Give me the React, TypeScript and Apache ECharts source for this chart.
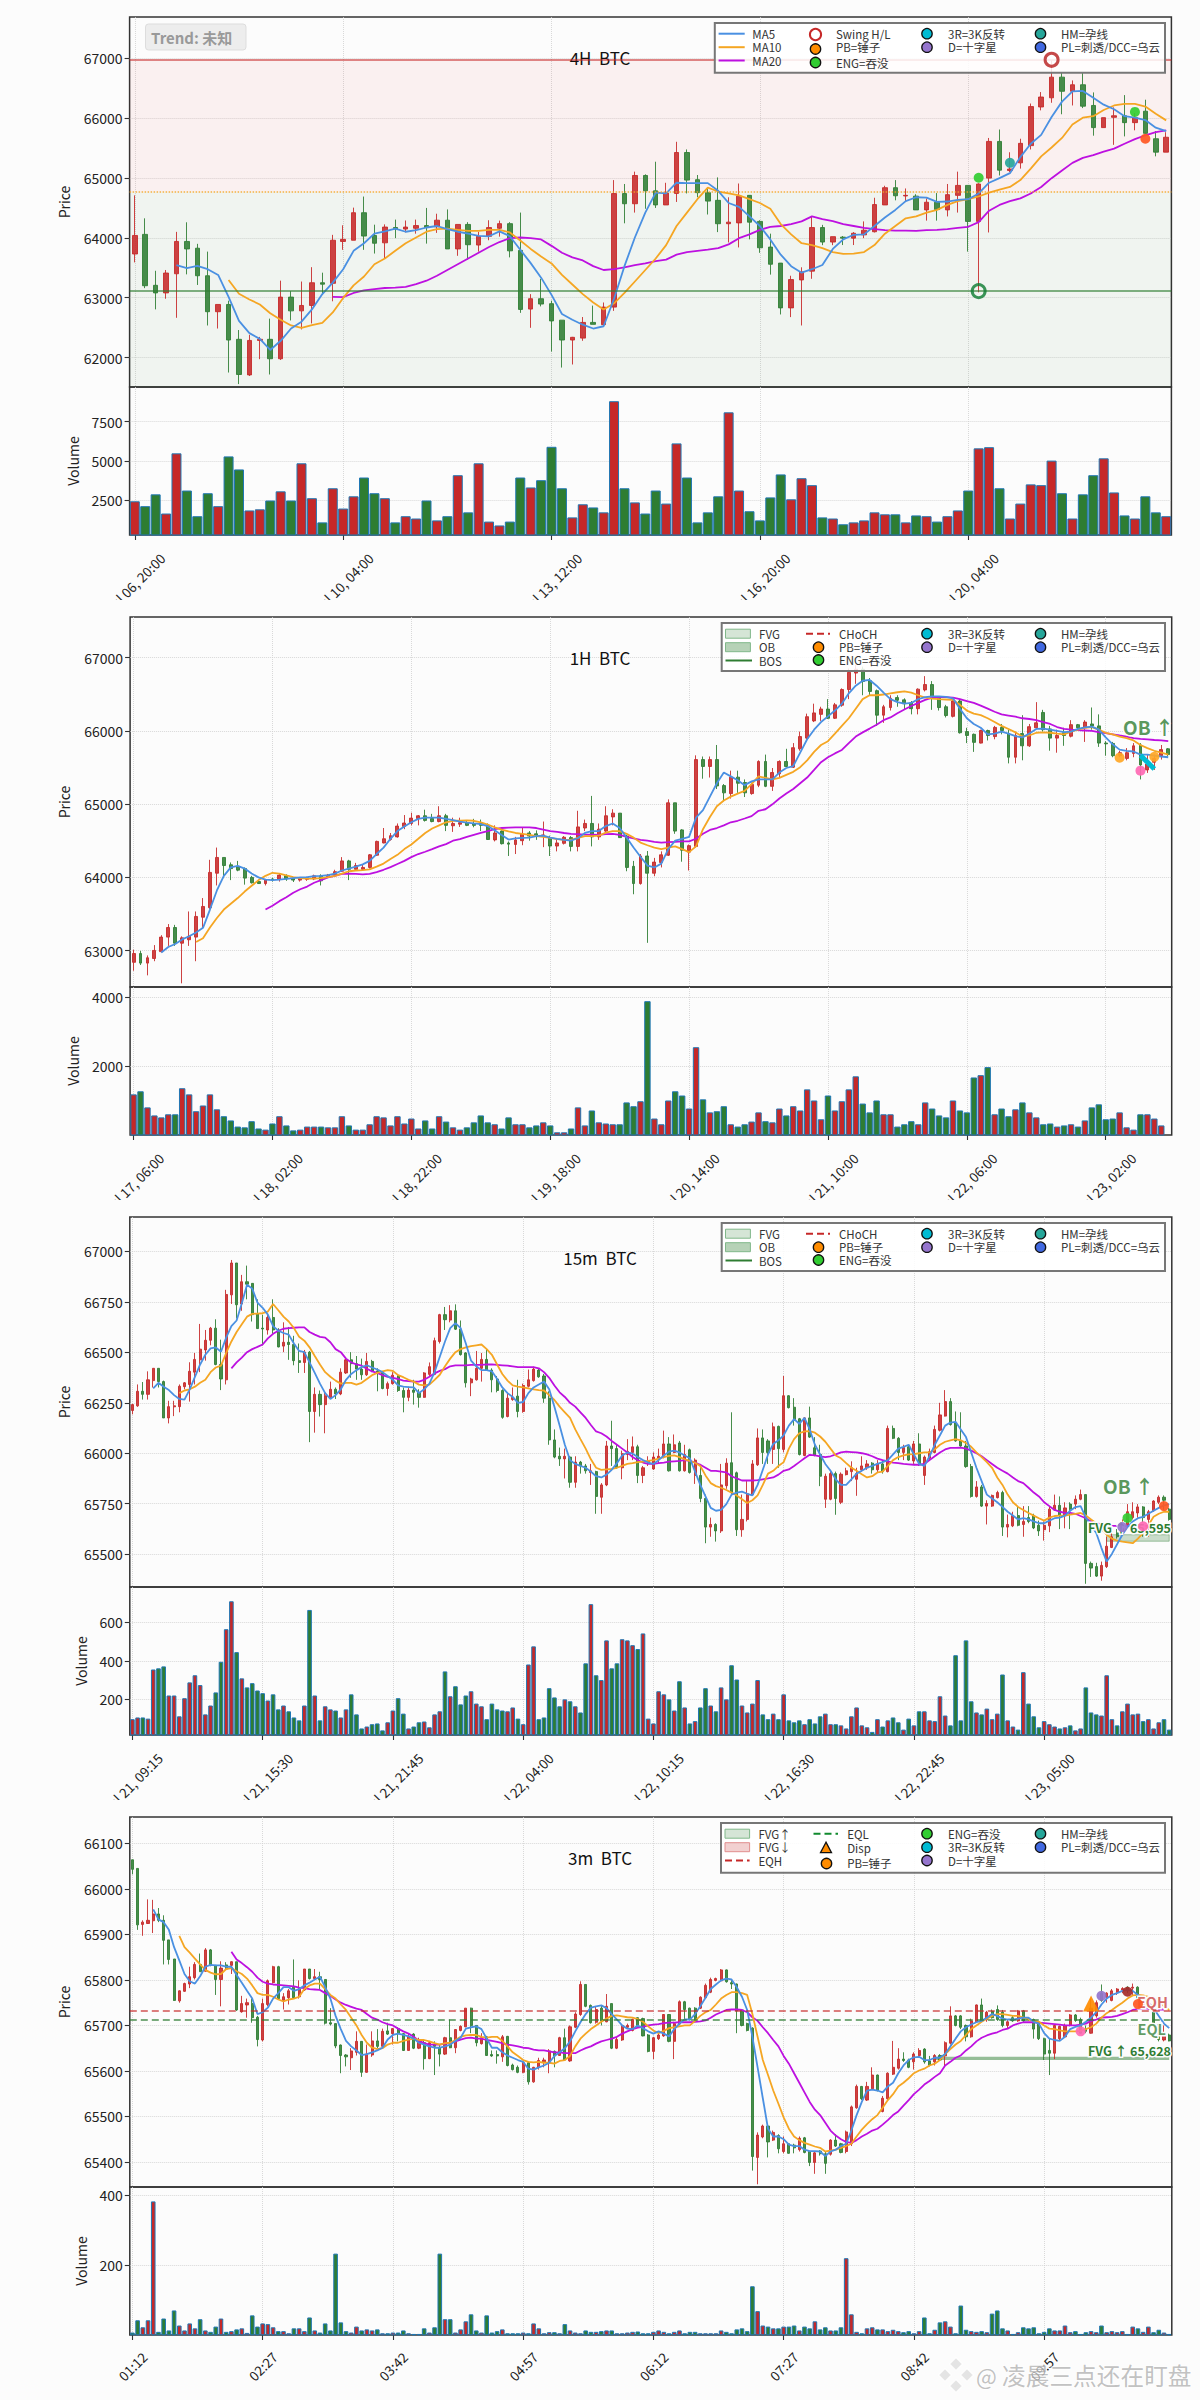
import React, { useEffect, useRef } from "react";
import * as echarts from "echarts";

const FONT = '"Noto Sans CJK SC","Noto Sans",sans-serif';
const UP = "#c62828";
const DOWN = "#2e7d32";
const pad = (n: number, a: number[]) => [...Array(n).fill(null), ...a];

// ---------- 4H ----------
const labels4h = ["Jul 06, 20:00", "Jul 10, 04:00", "Jul 13, 12:00", "Jul 16, 20:00", "Jul 20, 04:00"];
const candles4h = [
[63730,64040,63590,64710],[64058,63200,63160,64326],[63207,63080,62805,63450],[63080,63412,62983,63463],[63400,63940,62664,64100],[63940,63815,63390,64260],[63827,63367,63213,63900],[63367,62766,62536,63770],[62766,62887,62485,62887],[62887,62293,61750,62950],
[62305,61717,61557,62460],[61710,62286,61692,62380],[62286,62305,61973,62345],[62305,61980,61717,62650],[61980,63010,61960,63285],[63010,62780,62620,63110],[62780,62870,62470,63270],[62870,63250,62570,63510],[63250,63226,63047,63418],[63240,63960,62940,64050],
[63940,63975,63800,64210],[63960,64420,63960,64505],[64420,64030,63800,64690],[64040,63910,63738,64220],[63917,64180,63655,64225],[64173,64150,63995,64305],[64147,64180,64090,64290],[64160,64205,64070,64305],[64205,64173,63904,64500],[64185,64295,64083,64403],
[64295,63815,63815,64475],[63815,64224,63700,64224],[64224,63885,63635,64262],[63880,64025,63770,64100],[64025,64172,63960,64294],[64160,64237,64020,64288],[64237,63783,63674,64262],[63790,62804,62747,64422],[62810,62983,62497,63060],[62983,62894,62855,63316],
[62900,62612,62100,62950],[62625,62293,61833,62625],[62293,62338,61884,62345],[62325,62587,62280,62677],[62587,62555,62555,62868],[62550,62843,62550,62920],[62843,64740,62780,64965],[64740,64570,64243,64900],[64570,65042,64422,65106],[65042,64786,64486,65061],
[64786,64550,64500,65272],[64550,64748,64550,64920],[64742,65426,64600,65605],[65426,64965,64742,65477],[64972,64755,64678,65050],[64755,64614,64390,64838],[64627,64236,64096,65010],[64236,64262,63923,64678],[64250,64697,63840,64908],[64710,64262,63975,64710],
[64275,63834,63750,64294],[63846,63559,63386,64070],[63578,62830,62720,63578],[62830,63303,62676,63367],[63297,63431,62536,63508],[63444,64172,63316,64358],[64172,63930,63878,64217],[63930,64020,63878,64020],[64012,63995,63880,64030],[63995,64077,63880,64096],
[64050,64128,63995,64275],[64102,64556,64090,64670],[64550,64838,64550,64870],[64838,64703,64627,64965],[64700,64710,64614,64825],[64697,64467,64467,64729],[64467,64595,64288,64658],[64595,64473,64288,64748],[64467,64722,64358,64900],[64710,64876,64422,65106],
[64876,64275,63770,64876],[64275,64900,63090,64912],[64998,65611,64090,65669],[65611,65131,65042,65810],[65125,65150,65100,65430],[65253,65579,65157,65656],[65541,66193,65477,66244],[66187,66353,66130,66436],[66340,66685,66257,66960],[66685,66449,66065,66755],
[66449,66558,66212,66630],[66558,66200,66168,66755],[66212,65842,65707,66430],[65842,66008,65842,66008],[66014,66040,65554,66180],[66040,65925,65695,66385],[65925,66008,65797,66085],[66116,65746,65733,66308],[65656,65432,65362,65784],[65432,65681,65432,65765]];
const volume4h = [2450,2140,2890,1675,5485,3130,1505,2960,2140,5290,4465,1870,1940,2500,3080,2500,4855,2645,1115,3275,1990,2765,3955,2960,2645,1115,1505,1360,2500,1240,1505,4100,1750,4855,1165,920,1165,3955,3325,3785,5900,3275,1430,2260,2060,1750,8785,3275,2380,1675,3130,2305,6115,3955,1115,1750,2765,8080,3130,1820,1240,2695,4150,2575,3910,3470,1430,1360,995,1115,1240,1750,1625,1625,1115,1555,1505,1165,1505,1870,3130,5800,5875,3275,1360,2305,3520,3470,5025,2960,1360,2890,4100,5170,3010,1555,1360,2765,1750,1505];
const ma5_4h = pad(4,[63546,63495,63533,63476,63380,63015,62612,62408,62312,62127,62280,62485,62600,62804,63060,63252,63476,63783,63910,64070,64109,64153,64102,64128,64173,64198,64147,64102,64070,64032,64026,64109,64026,63802,63578,63335,63047,62728,62632,62549,62485,
62523,62983,63527,64006,64422,64755,64742,64921,64914,64914,64914,64786,64582,64518,64358,64198,63974,63719,63527,63418,63476,63546,63815,63974,64051,64058,64198,64339,64467,64614,64678,64671,64601,64607,64633,64646,64742,64921,64997,65081,65349,65573,65720,66020,66276,66449,66455,66340,66225,66148,66033,66008,65969,65841,65784]);
const ma10_4h = pad(9,[63297,63066,62971,62887,62740,62632,62536,62497,62542,62580,62753,62996,63207,63354,63559,63655,63783,63910,64006,64102,64147,64153,64134,64115,64115,64134,64134,64090,63955,63815,63687,63572,63380,63220,63060,62919,
62804,62907,63079,63271,63463,63655,63879,64198,64422,64646,64838,64774,64742,64710,64646,64582,64486,64230,64058,63910,63879,63827,63763,63731,63738,63763,63879,64070,64198,64326,64358,64422,64467,64550,64614,64646,64691,64755,64806,64850,64965,65157,65362,65509,65669,65893,66008,66033,66136,66212,66238,66238,66193,66072,65963]);
const ma20_4h = pad(19,[63015,63009,63079,63124,63143,63162,63169,63182,63226,63284,63367,63463,63559,63655,63751,63847,63930,63994,64006,63994,63974,63866,63751,63674,63623,63527,
63463,63476,63508,63546,63572,63610,63636,63719,63763,63783,63802,63827,63891,63994,64058,64134,64185,64198,64230,64275,64358,64313,64281,64230,64198,64166,64147,64128,64121,64121,64115,64128,64134,64147,64166,64185,64262,64454,64550,64614,64659,64742,64850,64997,65125,65253,65336,65381,65439,65490,65573,65650,65714,65765,65797]);

// ---------- 1H ----------
const labels1h = ["Jul 17, 06:00", "Jul 18, 02:00", "Jul 18, 22:00", "Jul 19, 18:00", "Jul 20, 14:00", "Jul 21, 10:00", "Jul 22, 06:00", "Jul 23, 02:00"];
const candles1h = [
[62841,62961,62726,63013],[62961,62830,62804,62997],[62830,62903,62663,62935],[62893,63003,62856,63076],[62987,63185,62976,63211],[63185,63316,63065,63363],[63316,63102,63065,63352],[63102,63175,62554,63196],[63149,63196,63065,63535],[63185,63467,62856,63535],
[63457,63603,63311,63718],[63587,64068,63561,64240],[64057,64272,63890,64407],[64272,64162,63990,64272],[64172,64120,63963,64204],[64146,64099,64084,64225],[64120,63990,63901,64136],[64000,63927,63916,64021],[63943,63916,63911,63963],[63916,63969,63890,63979],
[63979,63963,63943,63995],[63974,64031,63943,64057],[64021,63979,63953,64042],[63984,63963,63937,64005],[63963,63984,63943,64005],[63974,63995,63953,64010],[63979,64021,63963,64037],[64021,63953,63890,64042],[64010,64031,63995,64047],[64031,64078,64016,64104],
[64084,64225,64073,64277],[64225,64110,63963,64240],[64110,64162,64094,64198],[64110,64136,64099,64172],[64136,64308,64120,64319],[64303,64491,64292,64501],[64470,64527,64465,64674],[64517,64569,64501,64606],[64553,64700,64543,64736],[64695,64742,64658,64851],
[64736,64809,64710,64883],[64804,64841,64710,64851],[64841,64778,64762,64924],[64804,64762,64752,64867],[64762,64841,64752,64971],[64841,64710,64632,64867],[64705,64736,64621,64815],[64726,64747,64689,64815],[64747,64710,64700,64773],[64736,64710,64684,64799],
[64736,64710,64632,64789],[64710,64517,64512,64736],[64512,64606,64491,64710],[64632,64460,64449,64642],[64470,64454,64292,64491],[64449,64512,64319,64553],[64501,64590,64439,64674],[64606,64564,64501,64632],[64595,64569,64512,64642],[64569,64580,64413,64762],
[64543,64428,64292,64569],[64428,64470,64355,64527],[64465,64548,64449,64564],[64543,64423,64355,64564],[64423,64689,64355,64909],[64674,64736,64632,64789],[64736,64553,64423,65112],[64553,64658,64512,64736],[64632,64841,64606,64971],[64825,64877,64710,64930],
[64877,64543,64543,64877],[64564,64136,64084,64580],[64151,63916,63770,64225],[63916,64292,63901,64319],[64292,64057,63107,64360],[64057,64209,64016,64266],[64204,64308,64136,64355],[64303,65018,64292,65065],[65018,64632,64595,65018],[64648,64371,64214,64658],
[64345,64433,64094,64449],[64423,65608,64407,65666],[65608,65514,65347,65650],[65514,65608,65363,65650],[65608,65248,65206,65807],[65253,65154,65039,65274],[65144,65368,65076,65457],[65368,65285,65154,65457],[65295,65154,65097,65337],[65144,65269,65128,65295],
[65258,65582,65232,65598],[65582,65243,65232,65676],[65243,65431,65180,65493],[65415,65582,65363,65598],[65582,65514,65504,65755],[65504,65770,65493,65833],[65755,65922,65729,65990],[65901,66193,65885,66235],[66136,66245,66120,66371],[66225,66298,66136,66329],
[66298,66172,66162,66433],[66172,66355,66162,66381],[66350,66564,66329,66580],[66564,66799,66433,66851],[66789,66841,66642,66903],[66841,66674,66486,66877],[66684,66538,66486,66721],[66548,66214,66068,66564],[66214,66329,66110,66355],[66318,66444,66277,66486],
[66454,66418,66329,66486],[66423,66371,66298,66444],[66381,66303,66225,66407],[66303,66569,66225,66580],[66559,66632,66538,66747],[66632,66460,66287,66679],[66460,66318,66277,66475],[66329,66209,66183,66355],[66198,66407,66183,66423],[66407,65974,65963,66433],
[65990,65937,65833,66042],[65953,65843,65713,65963],[65833,66005,65828,66016],[66005,65937,65869,66016],[65922,66047,65885,66068],[66047,66005,65953,66094],[65963,65640,65556,66016],[65640,65937,65556,65990],[65963,65796,65598,66214],[65796,66057,65781,66094],
[66042,66110,66031,66392],[66251,66016,65990,66287],[66026,65901,65729,66068],[65901,65937,65702,66016],[65974,65937,65796,66042],[65927,66084,65911,66146],[66084,66042,66016,66094],[66042,66120,65849,66146],[66094,66068,66016,66319],[66068,65833,65781,66225],
[65833,65823,65661,65859],[65828,65661,65640,65849],[65661,65702,65640,65729],[65624,65702,65598,65765],[65692,65796,65640,65833],[65807,65535,65337,65833],[65467,65546,65426,65676],[65572,65624,65467,65676],[65661,65744,65608,65807],[65755,65676,65650,65765]];
const volume1h = [1193,1282,818,586,530,619,619,1370,1193,707,873,1193,762,563,442,265,243,420,210,177,354,563,298,155,177,265,265,265,243,243,563,298,177,177,331,563,530,298,563,354,497,210,442,210,563,409,243,177,243,387,586,387,331,210,530,331,331,243,298,387,298,100,100,210,818,298,729,387,354,331,331,961,851,995,3879,497,331,1017,1282,1160,785,2552,1050,674,707,851,331,265,331,409,674,420,387,785,586,851,729,1337,1017,475,1160,729,995,1337,1713,928,674,1017,619,619,265,331,420,331,961,785,586,530,1017,729,674,1680,1746,1978,619,785,563,762,961,674,530,331,354,265,298,331,265,442,818,906,475,497,674,243,177,619,619,497,298,36];
const ma5_1h = pad(4,[62976,63050,63091,63154,63196,63248,63311,63561,63822,64021,64136,64157,64120,64052,64000,63969,63963,63969,63979,63990,64000,64005,64016,64021,64031,64052,64094,64120,64146,64178,64225,64319,64407,64527,64632,64695,64752,64799,64815,64815,64815,64799,64783,64762,64747,64736,64726,64700,64642,64580,64517,64533,64538,64543,64564,64569,64543,64527,64512,64501,64538,64606,64632,
64632,64700,64736,64674,64543,64407,64282,64162,64136,64188,64386,64501,64527,64553,64815,64919,65102,65285,65431,65379,65326,65259,65311,65337,65337,65337,65431,65493,65520,65702,65885,66016,66120,66198,66277,66371,66512,66616,66684,66695,66616,66522,66433,66392,66371,66381,66433,66460,66470,66470,66465,66444,66303,66172,66094,66042,65953,65963,65990,65963,65927,65911,65963,66026,66031,66016,66000,65984,65990,66026,66047,66057,66016,65911,65817,65744,65728,65718,65676,65676,65661,65650,65640]);
const ma10_1h = pad(9,[63117,63170,63316,63446,63561,63640,63718,63807,63885,63963,64021,64063,64052,64026,64005,63990,63984,63984,63990,64005,64021,64052,64084,64094,64099,64110,64146,64188,64251,64308,64386,64449,64527,64606,64668,64710,64752,64773,64773,64778,64773,64752,64721,64684,64653,64627,64606,64595,64580,64564,64553,64538,64522,64512,64512,64538,64564,64564,
64569,64611,64632,64632,64595,64543,64475,64439,64407,64386,64407,64423,64386,64345,64423,64658,64825,64971,65050,65102,65144,65180,65274,65379,65358,65337,65358,65400,65441,65504,65598,65713,65807,65859,65963,66068,66172,66303,66433,66486,66486,66496,66512,66527,66538,66522,66486,66454,66439,66433,66428,66423,66355,66277,66235,66214,66172,66120,66068,66026,65979,65922,65937,65974,65979,65974,65963,65953,65990,66016,66042,66052,66016,65974,65953,65922,65901,65869,65807,65765,65728,65702,65676]);
const ma20_1h = pad(19,[63561,63614,63676,63728,63791,63838,63875,63927,63963,64000,64021,64047,64052,64047,64042,64047,64073,64104,64141,64183,64225,64277,64319,64350,64386,64423,64454,64501,64522,64553,64580,64606,64632,64658,64674,64679,64684,64684,64684,64674,64653,64632,64621,64606,64595,64590,64585,64585,
64580,64590,64595,64580,64553,64533,64512,64501,64486,64475,64480,64486,64491,64491,64527,64595,64648,64674,64710,64752,64773,64804,64836,64909,64930,64997,65076,65144,65206,65285,65363,65467,65572,65640,65692,65739,65833,65922,65979,66031,66084,66146,66183,66240,66292,66339,66381,66423,66454,66460,66460,66454,66433,66407,66381,66345,66303,66261,66225,66209,66193,66172,66162,66146,66120,66094,66052,66026,66016,66010,66005,66000,65984,65969,65953,65937,65922,65901,65890,65885,65875,65869,65859]);

// ---------- 15m ----------
const labels15m = ["Jul 21, 09:15", "Jul 21, 15:30", "Jul 21, 21:45", "Jul 22, 04:00", "Jul 22, 10:15", "Jul 22, 16:30", "Jul 22, 22:45", "Jul 23, 05:00"];
const candles15m = [
[66212,66241,66193,66245],[66235,66307,66230,66341],[66307,66292,66266,66353],[66292,66364,66266,66406],[66360,66421,66326,66421],[66421,66355,66326,66421],[66355,66175,66175,66360],[66175,66231,66148,66260],[66230,66235,66184,66260],[66231,66332,66203,66341],
[66330,66349,66317,66353],[66341,66406,66256,66451],[66402,66465,66341,66497],[66463,66516,66402,66641],[66512,66560,66459,66611],[66560,66620,66535,66626],[66620,66440,66436,66664],[66440,66368,66313,66563],[66364,66787,66341,66810],[66785,66943,66740,66958],
[66943,66736,66668,66943],[66740,66850,66706,66884],[66850,66838,66763,66930],[66842,66687,66653,66842],[66691,66618,66616,66763],[66620,66616,66535,66687],[66611,66673,66588,66692],[66673,66611,66592,66763],[66611,66527,66525,66620],[66531,66550,66501,66649],
[66550,66539,66463,66626],[66539,66459,66436,66582],[66459,66450,66398,66544],[66450,66501,66398,66512],[66501,66207,66055,66507],[66207,66292,66102,66326],[66292,66241,66182,66311],[66241,66285,66099,66307],[66275,66317,66269,66355],[66317,66294,66269,66326],
[66294,66402,66288,66421],[66398,66463,66393,66469],[66463,66444,66374,66501],[66444,66417,66364,66482],[66417,66389,66364,66469],[66389,66455,66383,66497],[66455,66408,66402,66463],[66408,66402,66307,66421],[66402,66321,66317,66408],[66321,66345,66285,66355],
[66345,66387,66340,66402],[66383,66311,66304,66387],[66311,66277,66203,66326],[66277,66313,66258,66330],[66313,66302,66241,66364],[66302,66277,66226,66317],[66277,66398,66275,66402],[66391,66429,66383,66450],[66391,66558,66387,66573],[66554,66687,66544,66691],
[66687,66662,66611,66725],[66660,66706,66649,66734],[66706,66615,66611,66738],[66615,66489,66484,66658],[66497,66349,66326,66501],[66349,66368,66283,66374],[66364,66421,66360,66507],[66421,66465,66355,66497],[66465,66412,66408,66516],[66412,66364,66302,66421],
[66368,66311,66302,66383],[66311,66178,66171,66317],[66182,66273,66178,66298],[66266,66277,66260,66326],[66283,66207,66178,66364],[66207,66336,66201,66345],[66332,66364,66326,66415],[66360,66417,66355,66429],[66412,66379,66374,66421],[66383,66273,66250,66393],
[66273,66066,66042,66307],[66066,65981,65975,66118],[65985,65972,65937,66028],[65972,65985,65875,66023],[65981,65856,65829,65985],[65856,65956,65829,65985],[65956,65937,65899,65962],[65937,65913,65899,65947],[65905,65913,65843,65947],[65909,65786,65700,65913],
[65782,65843,65700,65852],[65843,66036,65837,66061],[66036,66023,65937,66161],[66023,65928,65924,66042],[65928,65998,65871,66013],[65994,66009,65966,66070],[66004,66032,65966,66083],[66032,65890,65852,66042],[65890,65928,65852,65937],[65951,65960,65937,65985],
[65922,65981,65918,66004],[65975,65985,65947,66023],[65981,66046,65975,66112],[66046,65913,65909,66080],[66004,66042,66000,66093],[66051,65913,65909,66061],[65913,65994,65909,66042],[66017,65905,65899,66023],[65890,65966,65848,65975],[65890,65776,65757,65947],
[65776,65634,65554,65795],[65634,65647,65586,65681],[65647,65615,65562,65653],[65615,65843,65605,65947],[65839,65951,65824,65975],[65953,65805,65795,66203],[65903,65621,65590,65909],[65621,65672,65586,65795],[65672,65799,65662,65862],[65795,65947,65791,65966],
[65943,66076,65937,66123],[66076,66004,65947,66118],[66061,66004,65947,66070],[66019,66131,65947,66152],[66133,66023,65928,66137],[66019,66285,66004,66383],[66285,66226,66222,66288],[66228,66165,66137,66273],[66171,65994,65989,66175],[65989,66175,65985,66178],
[66175,66080,66076,66231],[66027,65989,65985,66080],[65994,65886,65837,66042],[65772,65886,65729,65899],[65772,65899,65767,65918],[65899,65776,65695,65909],[65757,65896,65748,65905],[65894,65913,65890,65928],[65909,65928,65862,65960],[65871,65899,65789,65928],
[65918,65937,65909,65985],[65928,65947,65918,65966],[65951,65918,65899,65956],[65918,65947,65905,65966],[65947,65909,65899,65966],[65909,66123,65905,66137],[66123,66074,66070,66137],[66074,66004,65966,66080],[66004,66028,65966,66042],[66032,65966,65962,66036],
[65962,66046,65947,66061],[66046,65943,65937,66099],[65890,65981,65843,65989],[65975,66008,65966,66023],[66004,66118,66000,66137],[66114,66190,66108,66250],[66184,66256,66182,66313],[66256,66142,66137,66273],[66150,66061,66057,66207],[66061,66036,66032,66203],
[66036,65934,65928,66061],[65934,65786,65780,65947],[65786,65833,65780,65862],[65833,65738,65734,65843],[65738,65751,65647,65767],[65738,65791,65734,65795],[65780,65805,65776,65814],[65805,65634,65590,65814],[65634,65647,65583,65696],[65640,65691,65634,65710],
[65691,65643,65638,65738],[65647,65662,65586,65738],[65681,65662,65653,65738],[65691,65630,65624,65700],[65643,65615,65590,65666],[65621,65643,65567,65662],[65640,65723,65609,65738],[65719,65742,65715,65795],[65742,65691,65624,65786],[65691,65729,65628,65757],
[65748,65723,65624,65757],[65748,65772,65723,65791],[65772,65795,65767,65820],[65795,65454,65353,65795],[65454,65431,65387,65463],[65438,65391,65387,65457],[65391,65444,65368,65463],[65438,65539,65431,65586],[65533,65586,65530,65605],[65605,65586,65577,65624],
[65615,65643,65605,65672],[65643,65710,65634,65748],[65681,65710,65672,65757],[65704,65734,65681,65748],[65734,65681,65586,65738],[65672,65710,65586,65719],[65715,65763,65710,65767],[65757,65782,65748,65791],[65782,65767,65719,65791],[65723,65672,65666,65729]];
const volume15m = [97,106,106,100,355,361,371,220,220,112,206,288,325,274,122,168,236,395,564,709,445,309,262,284,246,232,194,226,148,168,138,106,91,168,664,220,91,164,148,142,106,148,226,122,49,59,71,75,39,81,142,206,126,49,59,81,85,55,122,138,345,216,268,174,220,242,178,164,97,178,148,142,138,158,100,71,381,475,97,106,258,210,164,200,190,164,132,387,694,325,300,506,361,387,512,506,481,461,542,100,75,242,226,200,142,294,158,75,87,158,258,168,138,262,200,377,303,168,132,178,300,122,97,126,97,226,91,81,91,71,97,75,112,126,71,71,65,49,112,158,65,55,31,97,59,91,106,81,43,100,65,138,138,91,87,216,116,65,429,91,506,190,132,122,152,97,126,329,91,59,43,341,178,112,55,87,71,59,49,55,65,39,49,262,132,122,116,325,97,65,138,178,122,126,87,97,49,81,97,43];
const ma5_15m = pad(4,[66322,66349,66330,66313,66288,66269,66266,66317,66379,66440,66488,66520,66525,66503,66573,66630,66658,66744,66835,66816,66747,66721,66687,66630,66607,66596,66588,66544,66507,66501,66450,66398,66345,66298,66269,66288,66317,66364,66393,66412,66427,66436,66425,66415,66402,66383,66364,66336,66330,66328,66326,66298,66317,66345,66402,66478,66554,66620,66645,66620,66544,66459,66431,66412,66412,66406,66368,66326,66298,66279,66250,66254,66298,66326,66341,66355,66317,66231,66137,66042,65966,65947,65937,65928,65909,65886,
65880,65894,65918,65951,65989,66004,65998,65981,65966,65954,65947,65966,65989,66008,66013,66004,65989,65975,65909,65843,65786,65729,65715,65719,65748,65795,65805,65810,65799,65791,65843,65918,65994,66046,66064,66089,66137,66169,66146,66175,66118,66042,65994,65947,65913,65871,65843,65843,65871,65899,65913,65928,65937,65947,65956,65966,65994,66023,66032,66042,65994,65947,65937,65985,66042,66089,66137,66152,66156,66118,66080,66004,65928,65862,65795,65776,65757,65734,65710,65691,65672,65678,65672,65662,65653,65653,65666,65678,65681,65691,65715,65733,65738,65681,65643,65605,65530,65463,65501,65549,65596,65634,65662,65678,65685,65700,65715,65729,65742,65748]);
const ma10_15m = pad(9,[66298,66311,66317,66330,66349,66364,66402,66425,66434,66497,66554,66601,66639,66677,66691,66692,66694,66702,66740,66709,66677,66653,66620,66577,66558,66525,66482,66440,66402,66379,66360,66345,66349,66349,66340,66349,66368,66387,66398,66406,66412,66408,66387,66377,66364,66355,66340,66336,66340,66364,66389,66431,66469,66501,66516,66525,66531,66535,66539,66516,66488,66440,66393,66360,66336,66330,66326,66321,66317,66313,66311,66288,66264,66231,66203,66175,66118,66070,66023,65970,65928,
65918,65920,65922,65928,65937,65947,65951,65956,65958,65962,65966,65973,65981,65987,65989,65981,65970,65962,65953,65937,65890,65852,65837,65829,65818,65805,65791,65772,65753,65767,65791,65843,65899,65913,65937,65956,66023,66070,66099,66108,66110,66102,66083,66057,66023,65989,65975,65951,65928,65913,65896,65880,65886,65905,65909,65937,65966,65981,65989,65994,65996,66000,66004,66004,66019,66042,66057,66064,66070,66064,66051,66032,66004,65981,65956,65928,65880,65843,65795,65757,65734,65719,65704,65691,65678,65666,65681,65689,65691,65691,65696,65700,65704,65691,65672,65653,65624,65596,65577,65567,65562,65558,65554,65577,65605,65643,65685,65700,65710,65710]);
const ma20_15m = pad(19,[66421,66450,66474,66501,66516,66527,66539,66569,66592,66607,66617,66620,66622,66624,66624,66601,66588,66577,66573,66550,66516,66501,66469,66450,66440,66434,66419,66406,66398,66387,66379,66374,66368,66360,66357,66355,66355,66364,66379,66396,66408,66417,66431,66436,66436,66436,66438,66438,66438,66440,66440,66438,66436,66434,66431,66427,66427,66427,66427,66421,66402,66374,66336,66302,66279,66250,66231,66203,66175,66140,66108,
66099,66083,66061,66042,66023,66004,65981,65966,65954,65947,65947,65951,65954,65958,65960,65962,65966,65962,65954,65943,65928,65913,65913,65909,65905,65886,65875,65865,65865,65865,65867,65871,65875,65880,65894,65913,65920,65937,65956,65975,65992,65989,65985,65981,65985,65994,66004,66008,66006,66004,66000,65994,65985,65973,65966,65960,65954,65951,65947,65945,65943,65943,65947,65966,65985,66004,66019,66027,66027,66028,66023,66013,66000,65985,65966,65947,65928,65913,65899,65880,65862,65852,65829,65805,65786,65757,65738,65719,65710,65704,65704,65700,65689,65678,65662,65653,65647,65643,65640,65640,65640,65640,65640,65640,65640,65640,65640,65640,65640,65640]);

// ---------- 3m ----------
const labels3m = ["01:12", "02:27", "03:42", "04:57", "06:12", "07:27", "08:42", "09:57"];
const candles3m = [
[66064,66043,66032,66064],[66045,65921,65910,66045],[65922,65927,65897,65931],[65924,65931,65923,65977],[65930,65945,65903,65976],[65945,65931,65927,65958],[65931,65887,65834,65942],[65888,65845,65834,65888],[65846,65755,65754,65846],[65754,65776,65750,65777],
[65775,65792,65774,65794],[65791,65807,65782,65829],[65805,65834,65801,65839],[65834,65818,65818,65858],[65819,65866,65818,65870],[65866,65832,65830,65868],[65832,65801,65767,65833],[65801,65826,65742,65841],[65833,65824,65822,65839],[65832,65840,65813,65841],
[65840,65734,65732,65840],[65730,65748,65728,65765],[65745,65750,65717,65759],[65748,65717,65706,65759],[65718,65669,65654,65721],[65668,65748,65665,65759],[65746,65798,65742,65801],[65794,65829,65792,65831],[65829,65759,65757,65831],[65755,65763,65735,65771],
[65761,65776,65746,65780],[65784,65761,65759,65845],[65763,65780,65759,65799],[65778,65824,65776,65824],[65824,65803,65801,65824],[65803,65807,65801,65824],[65807,65801,65780,65818],[65801,65705,65702,65801],[65706,65703,65700,65738],[65704,65655,65650,65704],
[65657,65634,65595,65658],[65635,65631,65610,65637],[65629,65644,65602,65650],[65641,65665,65634,65687],[65665,65597,65587,65665],[65597,65637,65596,65658],[65635,65666,65631,65687],[65666,65654,65650,65692],[65654,65687,65650,65693],[65688,65681,65679,65706],
[65682,65693,65658,65694],[65693,65682,65665,65696],[65682,65645,65644,65683],[65645,65676,65645,65683],[65681,65650,65648,65683],[65650,65663,65648,65673],[65662,65627,65603,65666],[65627,65662,65626,65666],[65658,65654,65591,65665],[65651,65637,65610,65658],
[65637,65673,65635,65675],[65673,65651,65650,65713],[65651,65691,65639,65692],[65689,65698,65687,65700],[65697,65738,65696,65738],[65738,65700,65683,65739],[65700,65662,65654,65700],[65660,65673,65658,65683],[65675,65634,65633,65677],[65636,65633,65631,65645],
[65636,65633,65616,65645],[65631,65675,65620,65679],[65676,65612,65610,65677],[65613,65603,65601,65616],[65608,65597,65595,65612],[65597,65618,65595,65620],[65618,65576,65570,65620],[65576,65608,65574,65609],[65608,65623,65603,65629],[65620,65624,65608,65629],
[65620,65644,65595,65648],[65643,65633,65608,65645],[65634,65673,65633,65675],[65673,65624,65623,65693],[65622,65697,65620,65700],[65696,65725,65694,65729],[65724,65790,65721,65797],[65790,65742,65740,65790],[65744,65706,65704,65746],[65707,65735,65704,65742],
[65738,65710,65700,65744],[65708,65742,65707,65769],[65748,65650,65648,65748],[65650,65669,65648,65675],[65668,65700,65666,65700],[65696,65700,65692,65704],[65689,65713,65687,65715],[65717,65700,65696,65718],[65715,65677,65676,65717],[65679,65643,65641,65681],
[65643,65673,65626,65675],[65671,65679,65668,65683],[65677,65724,65675,65725],[65724,65665,65663,65725],[65665,65704,65626,65708],[65703,65752,65700,65755],[65752,65735,65713,65754],[65738,65713,65711,65739],[65738,65713,65711,65740],[65738,65762,65736,65764],
[65761,65788,65759,65792],[65773,65801,65771,65805],[65799,65803,65797,65805],[65798,65822,65797,65824],[65822,65796,65794,65823],[65794,65791,65780,65801],[65791,65732,65683,65792],[65734,65700,65698,65735],[65704,65689,65687,65706],[65694,65412,65381,65696],
[65410,65459,65351,65465],[65455,65479,65452,65482],[65479,65444,65410,65480],[65448,65465,65446,65469],[65458,65429,65419,65461],[65423,65440,65419,65456],[65440,65419,65418,65441],[65437,65431,65419,65440],[65427,65452,65423,65456],[65453,65421,65419,65455],
[65423,65399,65391,65424],[65399,65420,65374,65423],[65424,65418,65414,65426],[65418,65397,65374,65423],[65417,65448,65414,65450],[65448,65435,65433,65461],[65440,65421,65419,65442],[65423,65466,65419,65469],[65440,65521,65435,65524],[65519,65566,65517,65570],
[65566,65539,65536,65567],[65536,65566,65534,65576],[65561,65591,65560,65608],[65591,65557,65555,65592],[65511,65540,65509,65545],[65539,65595,65536,65597],[65593,65608,65591,65666],[65606,65626,65603,65650],[65626,65623,65620,65641],[65624,65608,65606,65627],
[65620,65637,65603,65641],[65634,65645,65631,65650],[65648,65620,65616,65650],[65622,65612,65610,65633],[65620,65634,65612,65637],[65634,65624,65623,65637],[65633,65662,65609,65665],[65661,65721,65658,65742],[65721,65700,65698,65723],[65721,65696,65692,65723],
[65700,65675,65665,65702],[65675,65710,65673,65715],[65708,65745,65707,65746],[65745,65710,65708,65759],[65713,65729,65708,65732],[65731,65717,65715,65735],[65735,65713,65710,65744],[65729,65700,65696,65734],[65700,65708,65692,65713],[65717,65710,65708,65721],
[65710,65732,65708,65734],[65732,65710,65708,65734],[65715,65712,65710,65717],[65713,65692,65671,65715],[65706,65671,65668,65708],[65671,65637,65624,65673],[65645,65639,65591,65671],[65639,65700,65626,65702],[65671,65698,65668,65700],[65675,65700,65673,65704],
[65700,65723,65698,65725],[65723,65711,65708,65725],[65713,65683,65682,65717],[65692,65687,65683,65700],[65683,65738,65682,65759],[65721,65750,65717,65755],[65771,65755,65752,65790],[65763,65771,65750,65773],[65755,65776,65753,65780],[65773,65780,65767,65782],
[65778,65781,65771,65784],[65784,65776,65771,65786],[65782,65784,65766,65792],[65784,65761,65750,65786],[65746,65763,65742,65766],[65739,65759,65735,65763],[65739,65700,65698,65742],[65702,65669,65665,65704],[65668,65679,65665,65700],[65679,65666,65665,65682]];
const volume3m = [8,43,23,43,382,10,48,14,71,28,14,34,20,46,14,10,25,48,10,12,17,20,7,57,25,34,32,23,12,12,6,20,20,12,51,14,8,34,14,233,37,12,8,25,14,17,14,17,6,6,8,8,14,6,4,4,20,8,23,233,46,46,8,17,40,60,14,8,57,8,12,17,6,6,6,8,6,34,20,6,9,9,6,32,14,8,6,14,10,10,12,14,14,6,6,8,10,11,6,6,10,14,10,6,10,14,6,10,10,6,6,6,6,14,10,6,17,20,12,140,69,28,25,20,20,25,25,28,14,25,20,40,17,23,14,14,23,220,60,10,6,20,23,17,17,12,16,12,9,12,6,12,51,6,16,37,40,25,6,85,16,12,10,12,9,62,71,20,14,4,9,23,20,23,6,10,20,14,14,28,9,12,4,9,12,9,28,9,12,9,12,4,25,20,10,25,9,16,8,4];
const ma5_3m = pad(4,[65955,65933,65927,65910,65872,65843,65813,65797,65792,65808,65829,65833,65832,65832,65829,65829,65811,65794,65776,65759,65725,65729,65739,65759,65771,65784,65784,65776,65780,65788,65794,65801,65807,65784,65759,65721,65692,65666,65654,65645,65635,65637,65641,65645,65651,65669,65679,65682,65679,65676,65671,65662,65658,65654,65651,65651,65654,65658,65666,65673,65693,65696,65698,65692,65671,65651,65651,65641,65634,65629,65624,65620,65605,65603,65608,65612,65618,65633,65641,65650,65665,65687,65707,65725,65739,65742,
65744,65738,65725,65713,65700,65693,65692,65700,65694,65687,65682,65687,65682,65676,65692,65704,65713,65713,65725,65742,65761,65780,65790,65799,65803,65801,65784,65763,65734,65675,65608,65540,65473,65456,65456,65450,65438,65435,65435,65427,65424,65424,65423,65413,65423,65427,65435,65440,65469,65503,65532,65557,65559,65557,65553,65566,65574,65595,65612,65624,65630,65631,65624,65624,65629,65629,65637,65654,65671,65687,65696,65702,65707,65710,65717,65725,65721,65715,65713,65713,65715,65717,65717,65708,65704,65683,65671,65668,65666,65675,65692,65697,65700,65708,65717,65729,65746,65759,65767,65771,65776,65778,65776,65767,65759,65750,65738,65721,65704,65694]);
const ma10_3m = pad(9,[65897,65872,65860,65847,65834,65822,65816,65812,65813,65824,65826,65819,65813,65803,65788,65771,65767,65767,65763,65757,65753,65757,65759,65763,65780,65788,65792,65792,65780,65767,65759,65746,65734,65717,65700,65679,65662,65651,65648,65650,65658,65662,65662,65666,65669,65671,65668,65668,65665,65661,65658,65661,65662,65668,65675,65678,65679,65679,65675,65673,65675,65675,65666,65654,65641,65633,65624,65620,65619,65620,65618,65618,65616,65622,65624,65633,65654,65671,65682,65692,65700,
65708,65715,65721,65722,65720,65718,65717,65714,65708,65698,65689,65683,65688,65694,65696,65698,65700,65700,65710,65721,65729,65734,65746,65759,65767,65773,65773,65771,65767,65725,65675,65624,65591,65557,65528,65498,65473,65456,65448,65442,65438,65434,65431,65423,65425,65427,65431,65435,65440,65456,65471,65483,65494,65503,65519,65536,65549,65566,65574,65584,65595,65601,65605,65612,65616,65624,65637,65648,65658,65666,65679,65692,65700,65708,65715,65721,65725,65725,65723,65721,65721,65717,65713,65710,65708,65700,65693,65692,65689,65687,65687,65687,65688,65692,65696,65704,65717,65727,65734,65742,65750,65759,65766,65767,65766,65763,65759,65755,65742,65734]);
const ma20_3m = pad(19,[65862,65845,65837,65828,65818,65805,65796,65792,65790,65789,65788,65787,65786,65783,65782,65780,65779,65778,65771,65765,65757,65750,65745,65741,65737,65734,65725,65717,65713,65707,65703,65700,65693,65687,65682,65675,65666,65661,65658,65658,65658,65660,65662,65665,65669,65672,65673,65671,65671,65668,65666,65664,65661,65658,65656,65654,65651,65650,65647,65645,65645,65643,65641,65641,65639,65639,65639,65645,65650,65654,65660,
65665,65668,65671,65675,65682,65687,65692,65695,65697,65700,65702,65703,65705,65706,65706,65707,65707,65707,65708,65709,65711,65717,65724,65729,65734,65735,65735,65734,65729,65718,65710,65696,65683,65668,65654,65633,65616,65595,65574,65553,65532,65515,65503,65486,65469,65458,65450,65444,65442,65448,65456,65462,65469,65473,65482,65492,65503,65511,65524,65536,65549,65559,65570,65578,65587,65595,65612,65620,65629,65634,65645,65654,65665,65673,65678,65682,65685,65690,65693,65700,65704,65707,65707,65707,65706,65705,65704,65703,65702,65700,65700,65700,65702,65704,65710,65713,65717,65718,65719,65721,65725,65729,65734,65736,65737,65737,65736,65735,65735]);

type Panel = any;
const ptItem = (i: number, v: number) => [i, v];

const basePanel = (
  title: string, titleX: number, labels: string[], step: number, candles: number[][], volume: number[],
  mas: any[][], yMin: number, yMax: number, yTicks: number[], vMin: number, vMax: number, vTicks: number[],
  left: number, width: number, bodyW: number, volW: number, volGap: number, labelMargin: number,
): Panel => ({ title, titleX, labels, step, candles, volume, mas, yMin, yMax, yTicks, vMin, vMax, vTicks, left, width, bodyW, volW, volGap, labelMargin });

const COLORS = { PB: "#ff8c00", ENG: "#32cd32", R3: "#00bcd4", D: "#9575cd", HM: "#26a69a", PL: "#4169e1" };

function legendEls(box: number[], items: any[]) {
  const z = 8;
  const els: any[] = [{ type: "rect", z, shape: { x: box[0], y: box[1], width: box[2], height: box[3] }, style: { fill: "rgba(255,255,255,0.85)", stroke: "#777", lineWidth: 2 } }];
  items.forEach((it) => {
    const cy = it.y;
    if (it.kind === "line" || it.kind === "dash") {
      els.push({ type: "line", z: z + 1, shape: { x1: it.x0, y1: cy, x2: it.x1, y2: cy }, style: { stroke: it.color, lineWidth: 2, lineDash: it.kind === "dash" ? [7, 4] : undefined } });
    } else if (it.kind === "patch") {
      els.push({ type: "rect", z: z + 1, shape: { x: it.x0, y: cy - 4.5, width: it.x1 - it.x0, height: 9 }, style: { fill: it.fill, stroke: it.color, lineWidth: 1 } });
    } else if (it.kind === "dot") {
      els.push({ type: "circle", z: z + 1, shape: { cx: it.mx, cy, r: 5.2 }, style: { fill: it.color, stroke: "#111", lineWidth: 1.3 } });
    } else if (it.kind === "ring") {
      els.push({ type: "circle", z: z + 1, shape: { cx: it.mx, cy, r: 5.6 }, style: { fill: "rgba(255,255,255,0)", stroke: it.color, lineWidth: 2 } });
    } else if (it.kind === "tri") {
      els.push({ type: "polygon", z: z + 1, shape: { points: [[it.mx, cy - 6], [it.mx - 5.5, cy + 4.5], [it.mx + 5.5, cy + 4.5]] }, style: { fill: it.color, stroke: "#111", lineWidth: 1.3 } });
    }
    els.push({ type: "text", z: z + 1, x: it.tx, y: it.ty ?? cy, style: { text: it.label, font: `11.5px ${FONT}`, fill: "#333", textVerticalAlign: "middle", textBaseline: "middle" } });
  });
  return els;
}

const R = [33.7, 47.2, 60.5];
const col3 = (i: number) => ({ mx: 927, tx: 948, y: R[i] });
const col4 = (i: number) => ({ mx: 1040.5, tx: 1061, y: R[i] });
const legendStd = () => [
  { kind: "patch", x0: 725.5, x1: 750.4, y: R[0], tx: 759, label: "FVG", color: "#81b88a", fill: "rgba(46,125,50,0.2)" },
  { kind: "patch", x0: 725.5, x1: 750.4, y: R[1], tx: 759, label: "OB", color: "#81b88a", fill: "rgba(46,125,50,0.35)" },
  { kind: "line", x0: 725.5, x1: 752, y: R[2], tx: 759, label: "BOS", color: DOWN },
  { kind: "dash", x0: 806, x1: 830, y: R[0], tx: 839, label: "CHoCH", color: UP },
  { kind: "dot", mx: 818.5, y: R[1], tx: 839, label: "PB=锤子", color: COLORS.PB },
  { kind: "dot", mx: 818.5, y: R[2] - 0.5, tx: 839, label: "ENG=吞没", color: COLORS.ENG },
  { kind: "dot", ...col3(0), label: "3R=3K反转", color: COLORS.R3 },
  { kind: "dot", ...col3(1), label: "D=十字星", color: COLORS.D },
  { kind: "dot", ...col4(0), label: "HM=孕线", color: COLORS.HM },
  { kind: "dot", ...col4(1), label: "PL=刺透/DCC=乌云", color: COLORS.PL },
];
const legend4h = [
  { kind: "line", x0: 718.6, x1: 744.7, y: R[0], tx: 752.3, label: "MA5", color: "#4a90e2" },
  { kind: "line", x0: 718.6, x1: 744.7, y: R[1], tx: 752.3, label: "MA10", color: "#f5a623" },
  { kind: "line", x0: 718.6, x1: 744.7, y: R[2], tx: 752.3, label: "MA20", color: "#bd10e0" },
  { kind: "ring", mx: 815.5, y: 34.5, tx: 836, ty: R[0], label: "Swing H/L", color: "#c62828" },
  { kind: "dot", mx: 815.5, y: 49, tx: 836, ty: R[1], label: "PB=锤子", color: COLORS.PB },
  { kind: "dot", mx: 815.5, y: 62.5, tx: 836, ty: R[2] + 2, label: "ENG=吞没", color: COLORS.ENG },
  { kind: "dot", ...col3(0), label: "3R=3K反转", color: COLORS.R3 },
  { kind: "dot", ...col3(1), label: "D=十字星", color: COLORS.D },
  { kind: "dot", ...col4(0), label: "HM=孕线", color: COLORS.HM },
  { kind: "dot", ...col4(1), label: "PL=刺透/DCC=乌云", color: COLORS.PL },
];
const legend3m = [
  { kind: "patch", x0: 725, x1: 749.6, y: R[0], tx: 758.4, label: "FVG↑", color: "#81b88a", fill: "rgba(46,125,50,0.2)" },
  { kind: "patch", x0: 725, x1: 749.6, y: R[1], tx: 758.4, label: "FVG↓", color: "#e08e8e", fill: "rgba(198,40,40,0.22)" },
  { kind: "dash", x0: 725, x1: 749.6, y: R[2], tx: 758.4, label: "EQH", color: UP },
  { kind: "dash", x0: 813.5, x1: 838, y: R[0], tx: 847.2, label: "EQL", color: "#118a2e" },
  { kind: "tri", mx: 826, y: R[1] + 1, tx: 847.2, ty: R[1] + 0.5, label: "Disp", color: COLORS.PB },
  { kind: "dot", mx: 826.5, y: 63.5, tx: 847.2, ty: 62.5, label: "PB=锤子", color: COLORS.PB },
  { kind: "dot", ...col3(0), label: "ENG=吞没", color: COLORS.ENG },
  { kind: "dot", ...col3(1), label: "3R=3K反转", color: COLORS.R3 },
  { kind: "dot", ...col3(2), label: "D=十字星", color: COLORS.D },
  { kind: "dot", ...col4(0), label: "HM=孕线", color: COLORS.HM },
  { kind: "dot", ...col4(1), label: "PL=刺透/DCC=乌云", color: COLORS.PL },
];

const dots = (name: string, color: string, data: number[][], size = 10, symbol = "circle", z = 6) => ({
  type: "scatter", name, xAxisIndex: 0, yAxisIndex: 0, symbol, symbolSize: size, z, silent: true,
  itemStyle: { color, opacity: 0.92 }, data,
});
const ring = (name: string, color: string, data: number[][]) => ({
  type: "scatter", name, xAxisIndex: 0, yAxisIndex: 0, symbolSize: 13, z: 9, silent: true,
  itemStyle: { color: "rgba(0,0,0,0)", borderColor: color, borderWidth: 3 }, data,
});

const obText = (x: number, y: number) => ({
  type: "text", z: 5, x, y, style: { text: "OB ↑", font: `bold 19px ${FONT}`, fill: "rgba(46,125,50,0.8)", stroke: "#fcfcfc", lineWidth: 3, textAlign: "left", textVerticalAlign: "middle" },
});
const tagText = (text: string, xRight: number, y: number, fill: string, size = 12.5) => ({
  type: "text", z: 5, x: xRight, y, style: { text, font: `bold ${size}px ${FONT}`, fill, stroke: "#fcfcfc", lineWidth: 3, textAlign: "right", textVerticalAlign: "middle" },
});

const swingHigh4h = 66981, swingLow4h = 63110, equilibrium4h = 64767;
const fvg15m = [65564, 65596];
const fvg3m = [65624, 65631];
const eqh3m = 65733, eql3m = 65713;
const ob1h = [65347, 65807];

const panels: Panel[] = [
  {
    ...basePanel("4H  BTC", 600, labels4h, 20, candles4h, volume4h, [ma5_4h, ma10_4h, ma20_4h], 61508, 67690, [62000, 63000, 64000, 65000, 66000, 67000], 316, 9684, [2500, 5000, 7500], 129.6, 1041.8, 5, 10, 0, 48),
    areas: [
      [{ yAxis: equilibrium4h, itemStyle: { color: "rgba(229,57,53,0.06)" } }, { yAxis: swingHigh4h }],
      [{ yAxis: 61508, itemStyle: { color: "rgba(46,125,50,0.06)" } }, { yAxis: equilibrium4h }],
    ],
    lines: [
      { yAxis: swingHigh4h, lineStyle: { color: "rgba(198,40,40,0.55)", width: 2, type: "solid" } },
      { yAxis: swingLow4h, lineStyle: { color: "rgba(46,125,50,0.6)", width: 2, type: "solid" } },
      { yAxis: equilibrium4h, lineStyle: { color: "rgba(245,166,35,0.85)", width: 1.5, type: "dotted" } },
    ],
    extra: [
      dots("ENG", COLORS.ENG, [ptItem(81, 65004), ptItem(96, 66104)]),
      dots("HM", COLORS.HM, [ptItem(84, 65253)]),
      dots("PB", "#ff5722", [ptItem(97, 65656)]),
      ring("SwingH", "#b71c1c", [ptItem(88, 66975)]),
      ring("SwingL", "#0b7a2f", [ptItem(81, 63110)]),
    ],
    graphics: [
      { type: "rect", z: 7, shape: { x: 145.5, y: 24, width: 100.5, height: 26, r: 3 }, style: { fill: "rgba(235,235,235,0.9)", stroke: "#ddd", lineWidth: 1 } },
      { type: "text", z: 7, x: 151, y: 37, style: { text: "Trend: 未知", font: `bold 15px ${FONT}`, fill: "#999", textVerticalAlign: "middle" } },
      ...legendEls([714.8, 23, 450.2, 49.7], legend4h),
    ],
  },
  {
    ...basePanel("1H  BTC", 600, labels1h, 20, candles1h, volume1h, [ma5_1h, ma10_1h, ma20_1h], 62504, 67554, [63000, 64000, 65000, 66000, 67000], 22, 4287, [2000, 4000], 130.1, 1041.6, 3.4, 6.4, 0, 48),
    areas: [[{ xAxis: 145, yAxis: ob1h[0], itemStyle: { color: "rgba(46,125,50,0.3)" } }, { xAxis: 145, yAxis: ob1h[1] }]],
    lines: [],
    extra: [
      { type: "line", name: "3R", z: 6, silent: true, symbol: "none", xAxisIndex: 0, yAxisIndex: 0, lineStyle: { color: COLORS.R3, width: 5 }, data: [[145, 65665], [147, 65480]] },
      dots("PB", "#ffa726", [ptItem(142, 65634), ptItem(147, 65645)]),
      dots("Pink", "#ff69b4", [ptItem(145, 65457)]),
    ],
    graphics: [obText(1123, 726 - 600), ...legendEls([721.7, 23, 443.3, 48], legendStd())],
  },
  {
    ...basePanel("15m  BTC", 600, labels15m, 25, candles15m, volume15m, [ma5_15m, ma10_15m, ma20_15m], 65337, 67171, [65500, 65750, 66000, 66250, 66500, 66750, 67000], 15, 783, [200, 400, 600], 129.8, 1042, 2.6, 4.6, 0, 48),
    areas: [[{ xAxis: 187, yAxis: fvg15m[0], itemStyle: { color: "rgba(46,125,50,0.25)", borderColor: "rgba(46,125,50,0.4)", borderWidth: 1 } }, { xAxis: 199, yAxis: fvg15m[1] }]],
    lines: [],
    extra: [
      dots("ENG", COLORS.ENG, [ptItem(191, 65679)]),
      dots("D", COLORS.D, [ptItem(190, 65634)]),
      dots("Pink", "#ff69b4", [ptItem(194, 65638)]),
      dots("PB", "#ff5722", [ptItem(198, 65738)]),
    ],
    graphics: [obText(1103, 285), tagText("FVG ↑ 65,595", 1171, 327, DOWN), ...legendEls([721.7, 23, 443.3, 48], legendStd())],
  },
  {
    ...basePanel("3m  BTC", 600, labels3m, 25, candles3m, volume3m, [ma5_3m, ma10_3m, ma20_3m], 65345, 66158, [65400, 65500, 65600, 65700, 65800, 65900, 66000, 66100], 1, 423, [200, 400], 129.8, 1042, 2.6, 4.6, 0, 31),
    areas: [[{ xAxis: 154, yAxis: fvg3m[0], itemStyle: { color: "rgba(46,125,50,0.5)" } }, { xAxis: 199, yAxis: fvg3m[1] }]],
    lines: [
      { yAxis: eqh3m, lineStyle: { color: "rgba(198,40,40,0.8)", width: 1.6, type: [7, 4] } },
      { yAxis: eql3m, lineStyle: { color: "rgba(46,125,50,0.85)", width: 1.6, type: [7, 4] } },
    ],
    extra: [
      dots("Disp", COLORS.PB, [ptItem(184, 65748)], 16, "triangle"),
      dots("D", COLORS.D, [ptItem(186, 65765)]),
      dots("HM", "#a52a2a", [ptItem(191, 65774)]),
      dots("PB", "#ff5722", [ptItem(193, 65747)]),
      dots("Pink", "#ff69b4", [ptItem(182, 65687)]),
    ],
    graphics: [
      tagText("EQH", 1168, 201.7, "rgba(198,40,40,0.7)", 14.5),
      tagText("EQL", 1166, 228.5, "rgba(46,125,50,0.75)", 14.5),
      tagText("FVG ↑ 65,628", 1171, 250, DOWN),
      ...legendEls([721, 23, 444, 49.7], legend3m),
      ...[[956, 564], [945, 575], [967, 575], [956, 586]].map(([cx, cy]) => ({
        type: "polygon", z: 12, shape: { points: [[cx, cy - 6.5], [cx + 6.5, cy], [cx, cy + 6.5], [cx - 6.5, cy]] },
        style: { fill: "rgba(200,200,200,0.45)", stroke: "rgba(255,255,255,0.8)", lineWidth: 1.5 },
      })),
      { type: "text", z: 12, x: 976, y: 575, style: { text: "@", font: `22px ${FONT}`, fill: "rgba(160,160,160,0.65)", stroke: "rgba(255,255,255,0.6)", lineWidth: 2, textVerticalAlign: "middle" } },
      { type: "text", z: 12, x: 1002, y: 575, style: { text: "凌晨三点还在盯盘", font: `23.7px ${FONT}`, fill: "rgba(160,160,160,0.65)", stroke: "rgba(255,255,255,0.6)", lineWidth: 2, textVerticalAlign: "middle" } },
    ],
  },
];

function buildOption(p: Panel) {
  const N = p.candles.length;
  const names = Array.from({ length: N }, (_, i) => (i % p.step === 0 && p.labels[i / p.step]) || String(i));
  const tickIdx = p.labels.map((_: string, i: number) => i * p.step);
  const gridCommon = { left: p.left, width: p.width, show: true, borderColor: "#333", borderWidth: 1.5, backgroundColor: "transparent", outerBoundsMode: "none", containLabel: false };
  const split = { show: true, alignWithLabel: true, lineStyle: { color: "#d0d0d0", type: "dotted" as const, width: 1, opacity: 0.8 } };
  const xCommon = {
    type: "category", data: names, boundaryGap: true,
    axisLine: { show: false }, splitLine: split,
  };
  const yCommon = (name: string, gap: number) => ({
    type: "value", name, nameLocation: "middle", nameGap: gap,
    nameTextStyle: { fontSize: 14, color: "#222", fontFamily: FONT },
    axisLine: { show: false }, splitLine: { show: true, lineStyle: { color: "#d0d0d0", type: "dotted" as const, width: 1, opacity: 0.8 } },
    axisTick: { show: true, length: 5, lineStyle: { color: "#333", width: 1.1 } },
  });
  const labelY = { color: "#222", fontSize: 14, fontFamily: FONT, margin: 7, formatter: (v: number) => String(v) };
  const volNameGap = p.vMax > 2000 ? 50 : 42;
  return {
    animation: false,
    backgroundColor: "#fcfcfc",
    textStyle: { fontFamily: FONT },
    grid: [{ ...gridCommon, top: 17, height: 370 }, { ...gridCommon, top: 387, height: 148 }],
    xAxis: [
      { ...xCommon, gridIndex: 0, axisTick: { show: false, alignWithLabel: true, customValues: tickIdx }, axisLabel: { show: false, customValues: tickIdx } },
      {
        ...xCommon, gridIndex: 1,
        axisTick: { show: true, alignWithLabel: true, length: 5, customValues: tickIdx, lineStyle: { color: "#333", width: 1.1 } },
        axisLabel: { show: true, customValues: tickIdx, rotate: 45, align: "center", verticalAlign: "middle", margin: p.labelMargin, color: "#222", fontSize: 13.5, fontFamily: FONT, hideOverlap: false },
      },
    ],
    yAxis: [
      { ...yCommon("Price", 59), gridIndex: 0, min: p.yMin, max: p.yMax, axisTick: { show: true, length: 5, customValues: p.yTicks, lineStyle: { color: "#333", width: 1.1 } }, axisLabel: { ...labelY, customValues: p.yTicks } },
      { ...yCommon("Volume", volNameGap), gridIndex: 1, min: p.vMin, max: p.vMax, axisTick: { show: true, length: 5, customValues: p.vTicks, lineStyle: { color: "#333", width: 1.1 } }, axisLabel: { ...labelY, customValues: p.vTicks } },
    ],
    series: [
      {
        type: "candlestick", name: "Candles", xAxisIndex: 0, yAxisIndex: 0, z: 2, barWidth: p.bodyW, silent: true,
        itemStyle: { color: UP, color0: DOWN, borderColor: UP, borderColor0: DOWN, borderWidth: 1, opacity: 0.88 },
        data: p.candles,
        markArea: p.areas && p.areas.length ? { silent: true, z: 1, data: p.areas } : undefined,
        markLine: p.lines && p.lines.length ? { silent: true, symbol: "none", label: { show: false }, data: p.lines } : undefined,
      },
      ...["MA5", "MA10", "MA20"].map((name, k) => ({
        type: "line", name, xAxisIndex: 0, yAxisIndex: 0, z: 3 + (k === 0 ? 0.2 : k === 1 ? 0.1 : 0), showSymbol: false, symbol: "none", silent: true,
        lineStyle: { width: 1.8, color: ["#4a90e2", "#f5a623", "#bd10e0"][k] },
        data: p.mas[k],
      })),
      {
        type: "bar", name: "Volume", xAxisIndex: 1, yAxisIndex: 1, barWidth: p.volW, silent: true,
        data: p.volume.map((v: number, i: number) => ({
          value: v,
          itemStyle: { color: p.candles[i][1] >= p.candles[i][0] ? UP : DOWN, borderColor: "#1f77b4", borderWidth: 1 },
        })),
      },
      ...(p.extra || []),
    ],
    graphic: [
      { type: "text", z: 5, x: p.titleX, y: 57, style: { text: p.title, font: `17px ${FONT}`, fill: "#111", textAlign: "center", textVerticalAlign: "middle" } },
      ...(p.graphics || []),
    ],
  };
}

function Chart({ panel }: { panel: Panel }) {
  const ref = useRef<HTMLDivElement>(null);
  useEffect(() => {
    const chart = echarts.init(ref.current!, undefined, { renderer: "svg" });
    chart.setOption(buildOption(panel) as any);
    return () => chart.dispose();
  }, [panel]);
  return <div ref={ref} style={{ width: 1200, height: 600 }} />;
}

export default function App() {
  useEffect(() => {
    document.body.style.margin = "0";
    document.body.style.background = "#fcfcfc";
  }, []);
  return (
    <div style={{ width: 1200, height: 2400, position: "absolute", left: 0, top: 0 }}>
      {panels.map((p, i) => (
        <Chart key={i} panel={p} />
      ))}
    </div>
  );
}
